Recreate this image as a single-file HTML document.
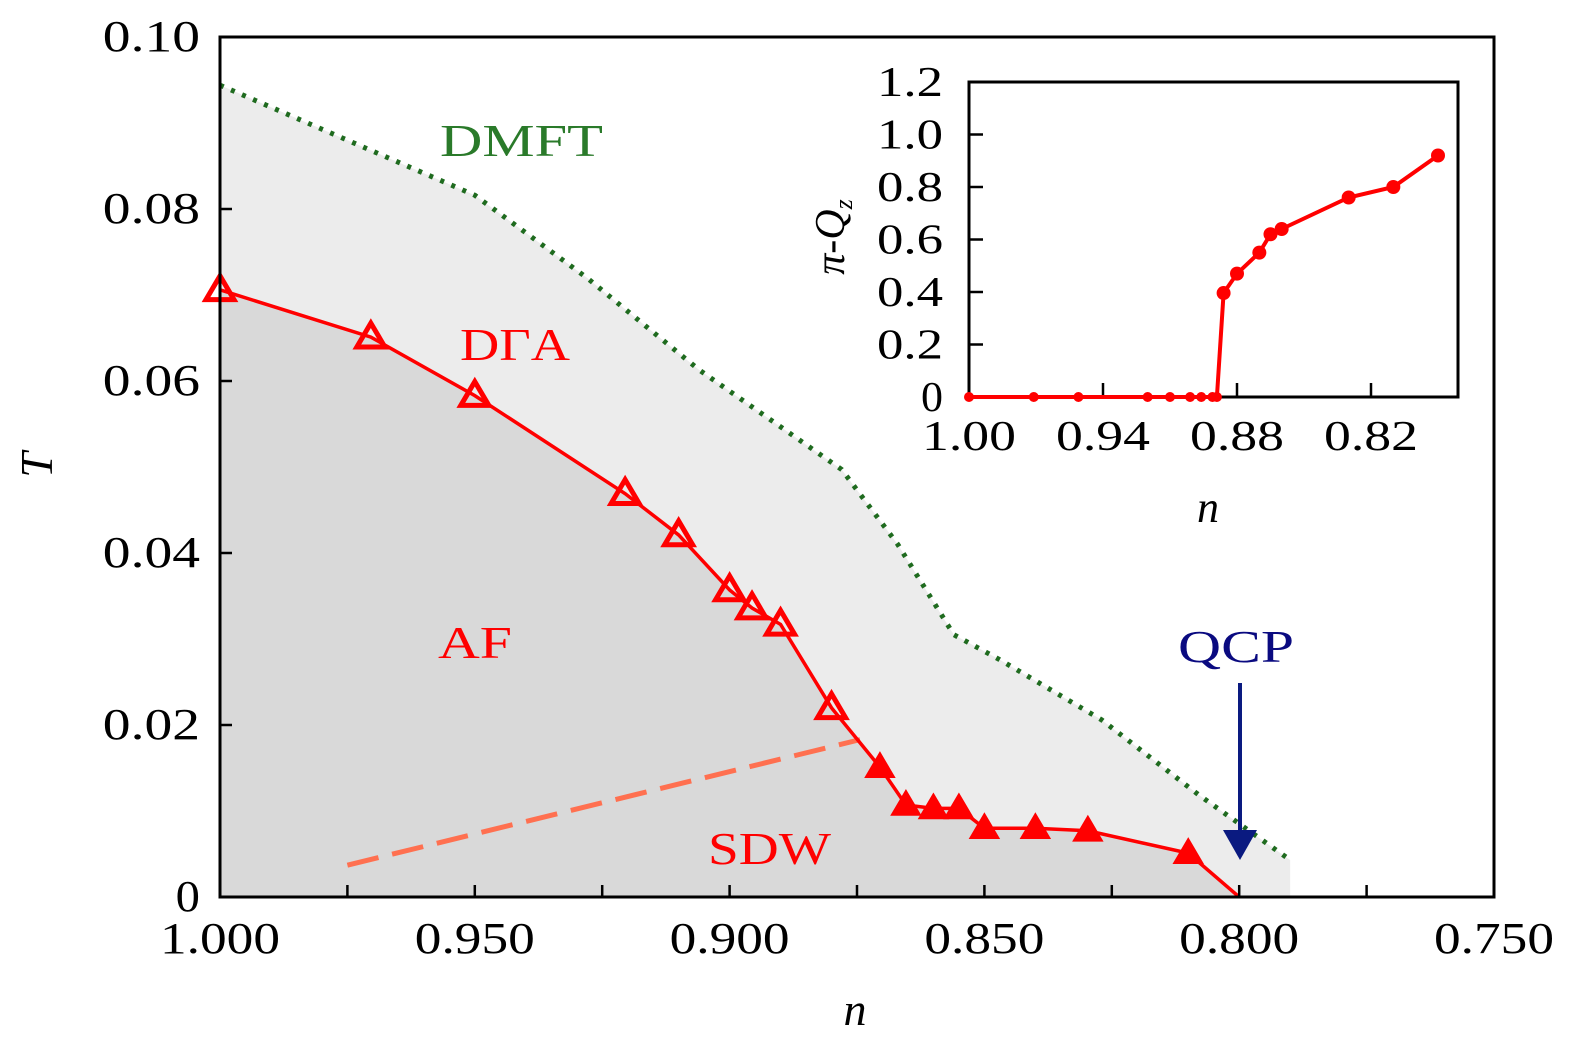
<!DOCTYPE html>
<html><head><meta charset="utf-8"><style>
html,body{margin:0;padding:0;background:#fff;}
svg{display:block;font-family:"Liberation Serif",serif;}
</style></head><body>
<svg id="c" width="1575" height="1053" viewBox="0 0 1575 1053"></svg>
<script>
const dgaN=[1.000,0.9704,0.950,0.9205,0.910,0.900,0.8956,0.890,0.880];
const dgaT=[0.0706,0.0651,0.0583,0.0469,0.0421,0.0357,0.0336,0.0317,0.0220];
const sdwN=[0.880,0.8705,0.8654,0.860,0.855,0.850,0.840,0.8297,0.810,0.800];
const sdwT=[0.0220,0.0151,0.0107,0.0103,0.0103,0.0080,0.0080,0.0077,0.0051,0.0];
const dmftN=[1.000,0.975,0.950,0.928,0.906,0.878,0.867,0.856,0.847,0.827,0.808,0.790];
const dmftT=[0.0944,0.0880,0.0816,0.0720,0.0613,0.0497,0.0410,0.0305,0.0276,0.0206,0.0119,0.0043];
const dashN=[0.975,0.8744];
const dashT=[0.0037,0.0183];
const xTicks=[1.000,0.950,0.900,0.850,0.800,0.750];
const xTickLabels=["1.000","0.950","0.900","0.850","0.800","0.750"];
const yTicks=[0,0.02,0.04,0.06,0.08,0.10];
const yTickLabels=["0","0.02","0.04","0.06","0.08","0.10"];
const inN=[1.00,0.971,0.951,0.920,0.910,0.901,0.896,0.891,0.889,0.886,0.880,0.870,0.865,0.860,0.830,0.810,0.790];
const inQ=[0,0,0,0,0,0,0,0,0,0.396,0.47,0.55,0.62,0.64,0.76,0.80,0.92];
const inXTicks=[1.00,0.94,0.88,0.82];
const inXLabels=["1.00","0.94","0.88","0.82"];
const inYTicks=[0,0.2,0.4,0.6,0.8,1.0,1.2];
const inYLabels=["0","0.2","0.4","0.6","0.8","1.0","1.2"];

const svg=document.getElementById('c');
const NS='http://www.w3.org/2000/svg';
function mk(tag,attrs,parent){const e=document.createElementNS(NS,tag);for(const k in attrs)e.setAttribute(k,attrs[k]);(parent||svg).appendChild(e);return e;}
const L=220,R=1494,T0=37,B=897;
const X=n=>L+(1-n)/0.25*(R-L);
const Y=t=>B-t/0.10*(B-T0);
const IL=969,IR=1458,IT=82,IB=397;
const IX=n=>IL+(1-n)/0.06*134;
const IY=q=>IB-q/1.2*(IB-IT);
const cw=24; // approx char width at main tick size

let p='M'+X(dmftN[0])+','+Y(0);
dmftN.forEach((n,i)=>p+=' L'+X(n)+','+Y(dmftT[i]));
p+=' L'+X(dmftN[dmftN.length-1])+','+Y(0)+'Z';
let e=mk('path',{d:p,fill:'#ececec'});


p='M'+X(dgaN[0])+','+Y(0);
dgaN.forEach((n,i)=>p+=' L'+X(n)+','+Y(dgaT[i]));
sdwN.forEach((n,i)=>p+=' L'+X(n)+','+Y(sdwT[i]));
p+='Z';
e=mk('path',{d:p,fill:'#d9d9d9'});



e=mk('polyline',{points:dmftN.map((n,i)=>X(n)+','+Y(dmftT[i])).join(' '),fill:'none',stroke:'#1f6b1f','stroke-width':5,'stroke-dasharray':'4 8'});


e=mk('line',{x1:X(dashN[0]),y1:Y(dashT[0]),x2:X(dashN[1]),y2:Y(dashT[1]),stroke:'#ff7050','stroke-width':5,'stroke-dasharray':'32 14'});


const all=dgaN.map((n,i)=>X(n)+','+Y(dgaT[i])).concat(sdwN.map((n,i)=>X(n)+','+Y(sdwT[i])));
e=mk('polyline',{points:all.join(' '),fill:'none',stroke:'#ff0000','stroke-width':3.5});


function tri(cx,cy,filled,name){const s=14;const t=mk('polygon',{points:`${cx},${cy-s} ${cx-s},${cy+s*0.7} ${cx+s},${cy+s*0.7}`,fill:filled?'#ff0000':'none',stroke:'#ff0000','stroke-width':filled?2:5});

}
dgaN.forEach((n,i)=>tri(X(n),Y(dgaT[i]),false,'dga-af-point'));
sdwN.slice(1,sdwN.length-1).forEach((n,i)=>tri(X(n),Y(sdwT[i+1]),true,'dga-sdw-point'));

e=mk('rect',{x:L,y:T0,width:R-L,height:B-T0,fill:'none',stroke:'#000','stroke-width':3});


for(let n=1.0;n>0.7499;n-=0.025){mk('line',{x1:X(n),y1:B,x2:X(n),y2:B-12,stroke:'#000','stroke-width':2.5});}
xTicks.forEach((n,i)=>{const s=xTickLabels[i];const t=mk('text',{x:X(n),y:953,'font-size':44,'text-anchor':'middle',textLength:s.length*24,lengthAdjust:'spacingAndGlyphs'});t.textContent=s;

});
yTicks.forEach((v,i)=>{mk('line',{x1:L,y1:Y(v),x2:L+12,y2:Y(v),stroke:'#000','stroke-width':2.5});const s=yTickLabels[i];const t=mk('text',{x:200,y:Y(v)+14,'font-size':44,'text-anchor':'end',textLength:s.length*24.3,lengthAdjust:'spacingAndGlyphs'});t.textContent=s;

});
let t=mk('text',{x:855,y:1025,'font-size':46,'font-style':'italic','text-anchor':'middle'});t.textContent='n';


t=mk('text',{x:52,y:465,'font-size':46,'font-style':'italic','text-anchor':'middle',transform:'rotate(-90 52 465)'});t.textContent='T';



function lab(x,y,s,c,w,name){const t=mk('text',{x:x,y:y,'font-size':46,fill:c,textLength:w,lengthAdjust:'spacingAndGlyphs'});t.textContent=s;

}
lab(440,156,'DMFT','#2a7a2a',163,'dmft-label');
lab(460,360,'DΓA','#ff0000',110,'dga-label');
lab(438,658,'AF','#ff0000',74,'af-label');
lab(708,864,'SDW','#ff0000',123,'sdw-label');
lab(1178,662,'QCP','#0a0a80',116,'qcp-label');
e=mk('g',{});


mk('line',{x1:1240,y1:683,x2:1240,y2:840,stroke:'#0a1a80','stroke-width':4},e);
mk('polygon',{points:'1223,830 1257,830 1240,860',fill:'#0a1a80'},e);

e=mk('rect',{x:IL,y:IT,width:IR-IL,height:IB-IT,fill:'#fff',stroke:'#000','stroke-width':3});


inXTicks.forEach((n,i)=>{mk('line',{x1:IX(n),y1:IB,x2:IX(n),y2:IB-14,stroke:'#000','stroke-width':2.5});const s=inXLabels[i];const t=mk('text',{x:IX(n),y:450,'font-size':42,'text-anchor':'middle',textLength:s.length*23.5,lengthAdjust:'spacingAndGlyphs'});t.textContent=s;

});
inYTicks.forEach((v,i)=>{mk('line',{x1:IL,y1:IY(v),x2:IL+14,y2:IY(v),stroke:'#000','stroke-width':2.5});const s=inYLabels[i];const t=mk('text',{x:943,y:IY(v)+14,'font-size':42,'text-anchor':'end',textLength:s.length*22,lengthAdjust:'spacingAndGlyphs'});t.textContent=s;

});
e=mk('polyline',{points:inN.map((n,i)=>IX(n)+','+IY(inQ[i])).join(' '),fill:'none',stroke:'#ff0000','stroke-width':4});


inN.forEach((n,i)=>{const c=mk('circle',{cx:IX(n),cy:IY(inQ[i]),r:inQ[i]>0?7:5,fill:'#ff0000'});

});
t=mk('text',{x:1208,y:522,'font-size':44,'font-style':'italic','text-anchor':'middle'});t.textContent='n';


t=mk('text',{x:844,y:237,'font-size':42,'text-anchor':'middle',transform:'rotate(-90 844 237)'});
t.innerHTML='<tspan font-style="italic">π</tspan>-<tspan font-style="italic">Q</tspan><tspan font-size="26" font-style="italic" dy="8">z</tspan>';


</script>
</body></html>
